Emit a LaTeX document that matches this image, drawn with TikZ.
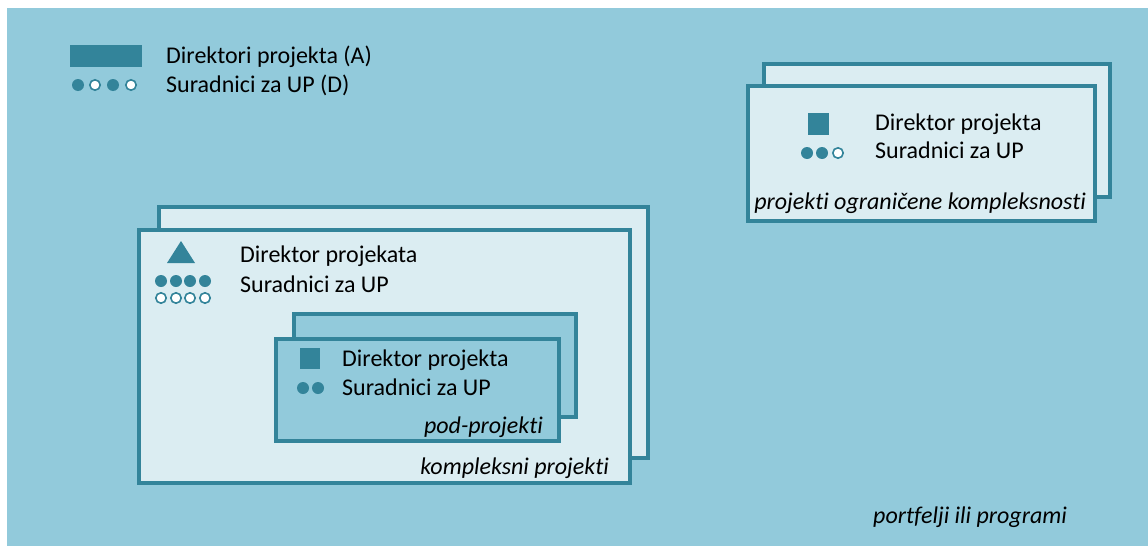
\documentclass[tikz,border=0pt]{standalone}
\usepackage{fontspec}
\setmainfont{Carlito}[Ligatures=NoCommon]
\definecolor{bgblue}{RGB}{146,202,219}
\definecolor{teal}{RGB}{51,132,154}
\definecolor{paleblue}{RGB}{219,237,242}
\tikzset{
  lbl/.style={inner sep=0pt, font=\fontsize{24}{28}\selectfont, text=black},
  caption/.style={lbl, font=\fontsize{24}{28}\selectfont\itshape},
  frontbox/.style={draw=teal, line width=3.6pt, fill=paleblue},
  subbox/.style={draw=teal, line width=3.6pt, fill=bgblue},
  fdot/.style={fill=teal},
  odot/.style={fill=white, draw=teal, line width=1.6pt},
}
\begin{document}
\begin{tikzpicture}[x=1pt, y=-1pt]
\useasboundingbox (0,0) rectangle (1148,546);
% background panel
\fill[bgblue] (7,8) rectangle (1148,546);

% legend
\fill[teal] (70,45) rectangle (142,67);
\fill[fdot] (78,85) circle (6);
\filldraw[odot] (95,85) circle (5.2);
\fill[fdot] (113,85) circle (6);
\filldraw[odot] (131,85) circle (5.2);
\node[lbl, anchor=base west] (legA) at (166,63) {Direktori projekta (A)};
\node[lbl, anchor=base west] (legD) at (166,92) {Suradnici za UP (D)};

% limited-complexity projects
\draw[frontbox] (764,64) rectangle (1110,197);
\draw[frontbox] (748,86) rectangle (1095,221);
\fill[teal] (808,113) rectangle (829,135);
\fill[fdot] (807,153) circle (6);
\fill[fdot] (822,153) circle (6);
\filldraw[odot] (838,153) circle (5.2);
\node[lbl, anchor=base west] (lcDir) at (875,130) {Direktor projekta};
\node[lbl, anchor=base west] (lcSur) at (875,158) {Suradnici za UP};
\node[caption, anchor=base east] (lcCap) at (1086,209) {projekti ograničene kompleksnosti};

% complex projects
\draw[frontbox] (159,207) rectangle (648,458);
\draw[frontbox] (139,230) rectangle (630,483);
\fill[teal] (181,241) -- (195,263) -- (167,263) -- cycle;
\foreach \x in {161,176,190,205} {
  \fill[fdot] (\x,281) circle (6);
  \filldraw[odot] (\x,298) circle (5.2);
}
\node[lbl, anchor=base west] (cpDir) at (240,262) {Direktor projekata};
\node[lbl, anchor=base west] (cpSur) at (240,292) {Suradnici za UP};
\node[caption, anchor=base east] (cpCap) at (609,474) {kompleksni projekti};

% sub-projects
\draw[subbox] (294,314) rectangle (576,417);
\draw[subbox] (276,339) rectangle (559,441);
\fill[teal] (300,348) rectangle (320,369);
\fill[fdot] (303,388) circle (6);
\fill[fdot] (318,388) circle (6);
\node[lbl, anchor=base west] (spDir) at (342,366) {Direktor projekta};
\node[lbl, anchor=base west] (spSur) at (342,395) {Suradnici za UP};
\node[caption, anchor=base east] (spCap) at (543,433) {pod-projekti};

% portfolio caption
\node[caption, anchor=base west] (pfCap) at (873,523) {portfelji ili programi};
\end{tikzpicture}
\end{document}
